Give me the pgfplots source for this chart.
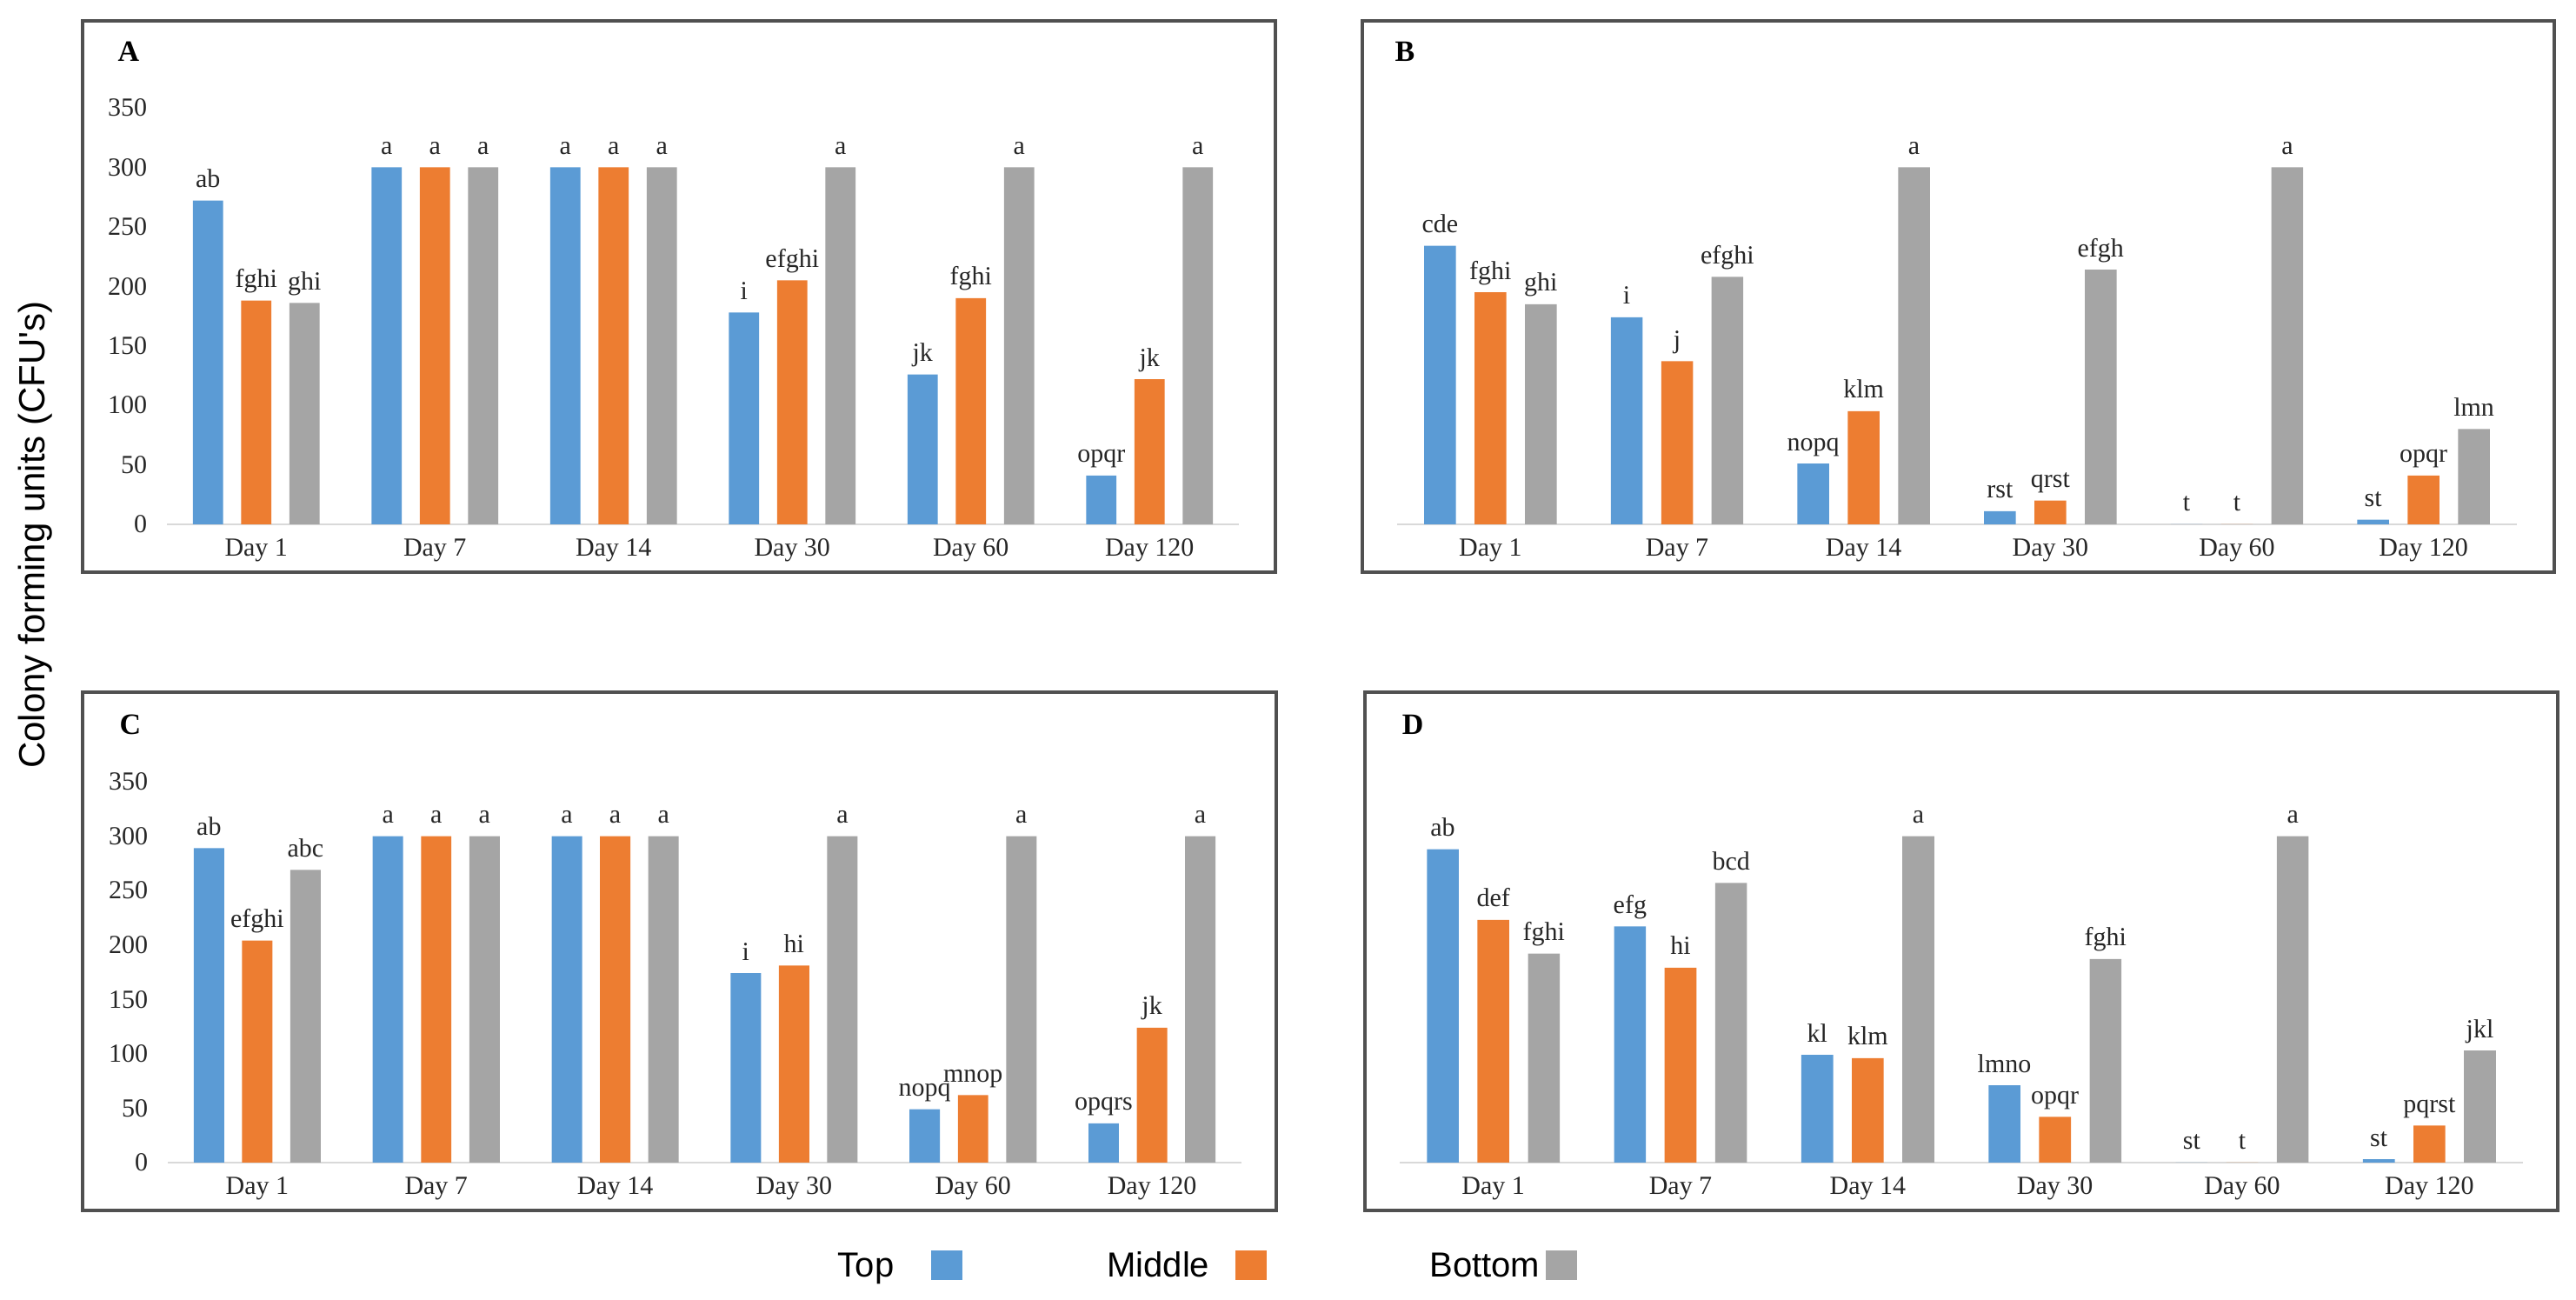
\documentclass[border=0pt]{standalone}
\usepackage{pgfplots}
\pgfplotsset{compat=1.18}
\usepackage{fontspec}
\setmainfont{Liberation Serif}
\newfontfamily\sansf{Liberation Sans}
\definecolor{cBlue}{HTML}{5B9BD5}
\definecolor{cOrange}{HTML}{ED7D31}
\definecolor{cGray}{HTML}{A5A5A5}
\definecolor{cFrame}{HTML}{505050}
\pgfplotsset{
  panel/.style={
    scale only axis, ymin=0, ymax=350, xmin=-0.5, xmax=5.5,
    axis x line=bottom, axis y line=left,
    x axis line style={draw=black!15, line width=0.6pt, -},
    y axis line style={draw=none},
    xtick={0,...,5}, xticklabels={Day 1,Day 7,Day 14,Day 30,Day 60,Day 120},
    ytick={0,50,...,350},
    major tick length=0pt, tick style={draw=none},
    ticklabel style={font=\fontsize{7.5}{9}\selectfont, text=black!85},
    xticklabel style={anchor=north, inner sep=0pt, yshift=-4pt},
    yticklabel style={anchor=east, inner sep=0pt, xshift=-5.5pt},
    /pgf/number format/assume math mode=true,
    point meta=explicit symbolic,
    nodes near coords,
    every node near coord/.append style={font=\fontsize{7.5}{9}\selectfont, text=black!85, anchor=base, inner sep=0pt, yshift=3.75pt},
    anchor=south west,
  },
  bB/.style={ybar, bar width=0.17, bar shift=0, x filter/.expression={x-0.27}, fill=cBlue, draw=none},
  bO/.style={ybar, bar width=0.17, bar shift=0, fill=cOrange, draw=none},
  bG/.style={ybar, bar width=0.17, bar shift=0, x filter/.expression={x+0.27}, fill=cGray, draw=none},
}
\begin{document}
\begin{tikzpicture}
\path[use as bounding box] (0,0) rectangle (740.75pt,373.75pt);
% frames
\draw[cFrame, line width=0.9pt] (23.75pt,209.25pt) rectangle (366.75pt,367.75pt);
\draw[cFrame, line width=0.9pt] (391.75pt,209.25pt) rectangle (734.5pt,367.75pt);
\draw[cFrame, line width=0.9pt] (23.75pt,25.75pt) rectangle (367pt,174.75pt);
\draw[cFrame, line width=0.9pt] (392.5pt,25.75pt) rectangle (735.5pt,174.75pt);
% panel letters
\node[font=\bfseries\fontsize{8.5}{10}\selectfont] at (37pt,359pt) {A};
\node[font=\bfseries\fontsize{8.5}{10}\selectfont] at (404pt,359pt) {B};
\node[font=\bfseries\fontsize{8.5}{10}\selectfont] at (37.5pt,165.5pt) {C};
\node[font=\bfseries\fontsize{8.5}{10}\selectfont] at (406.25pt,165.5pt) {D};
% y label
\node[rotate=90, font=\sansf\fontsize{10.5}{12}\selectfont] at (10.25pt,220pt) {Colony forming units (CFU's)};

% Panel A
\begin{axis}[panel, at={(48pt,223pt)}, width=308.25pt, height=119.75pt]
\addplot[bB] coordinates {(0,272) [ab] (1,300) [a] (2,300) [a] (3,178) [i] (4,126) [jk] (5,41) [opqr]};
\addplot[bO] coordinates {(0,188) [fghi] (1,300) [a] (2,300) [a] (3,205) [efghi] (4,190) [fghi] (5,122) [jk]};
\addplot[bG] coordinates {(0,186) [ghi] (1,300) [a] (2,300) [a] (3,300) [a] (4,300) [a] (5,300) [a]};
\end{axis}

% Panel B
\begin{axis}[panel, ytick=\empty, at={(401.75pt,223pt)}, width=322pt, height=119.75pt]
\addplot[bB] coordinates {(0,234) [cde] (1,174) [i] (2,51) [nopq] (3,11) [rst] (4,0) [t] (5,4) [st]};
\addplot[bO] coordinates {(0,195) [fghi] (1,137) [j] (2,95) [klm] (3,20) [qrst] (4,0) [t] (5,41) [opqr]};
\addplot[bG] coordinates {(0,185) [ghi] (1,208) [efghi] (2,300) [a] (3,214) [efgh] (4,300) [a] (5,80) [lmn]};
\end{axis}

% Panel C
\begin{axis}[panel, at={(48.25pt,39.5pt)}, width=308.75pt, height=109.5pt]
\addplot[bB] coordinates {(0,289) [ab] (1,300) [a] (2,300) [a] (3,174) [i] (4,49) [nopq] (5,36) [opqrs]};
\addplot[bO] coordinates {(0,204) [efghi] (1,300) [a] (2,300) [a] (3,181) [hi] (4,62) [mnop] (5,124) [jk]};
\addplot[bG] coordinates {(0,269) [abc] (1,300) [a] (2,300) [a] (3,300) [a] (4,300) [a] (5,300) [a]};
\end{axis}

% Panel D
\begin{axis}[panel, ytick=\empty, at={(402.5pt,39.5pt)}, width=323pt, height=109.5pt]
\addplot[bB] coordinates {(0,288) [ab] (1,217) [efg] (2,99) [kl] (3,71) [lmno] (4,0) [st] (5,3) [st]};
\addplot[bO] coordinates {(0,223) [def] (1,179) [hi] (2,96) [klm] (3,42) [opqr] (4,0) [t] (5,34) [pqrst]};
\addplot[bG] coordinates {(0,192) [fghi] (1,257) [bcd] (2,300) [a] (3,187) [fghi] (4,300) [a] (5,103) [jkl]};
\end{axis}

% legend
\node[anchor=base east, inner sep=0pt, font=\sansf\fontsize{10}{12}\selectfont] at (257.25pt,6.5pt) {Top};
\fill[cBlue] (267.75pt,5.75pt) rectangle (276.75pt,14.25pt);
\node[anchor=base east, inner sep=0pt, font=\sansf\fontsize{10}{12}\selectfont] at (348pt,6.5pt) {Middle};
\fill[cOrange] (355.25pt,5.75pt) rectangle (364.25pt,14.25pt);
\node[anchor=base east, inner sep=0pt, font=\sansf\fontsize{10}{12}\selectfont] at (443pt,6.5pt) {Bottom};
\fill[cGray] (444.5pt,5.75pt) rectangle (453.5pt,14.25pt);
\end{tikzpicture}
\end{document}
